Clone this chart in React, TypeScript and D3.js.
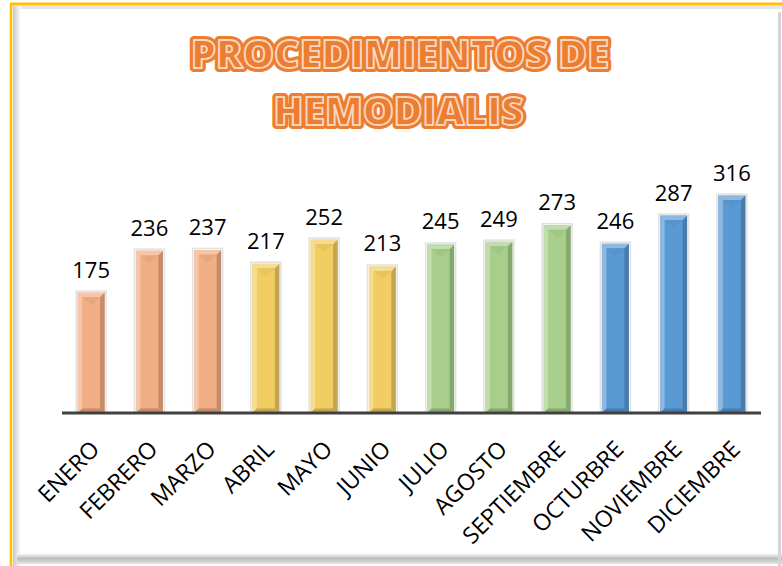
import * as d3 from "d3"

const months = [
  "ENERO", "FEBRERO", "MARZO", "ABRIL", "MAYO", "JUNIO",
  "JULIO", "AGOSTO", "SEPTIEMBRE", "OCTURBRE", "NOVIEMBRE", "DICIEMBRE",
]
const values = [175, 236, 237, 217, 252, 213, 245, 249, 273, 246, 287, 316]
// one colour group per quarter
const quarter = [0, 0, 0, 1, 1, 1, 2, 2, 2, 3, 3, 3]
const baseColors = ["#F2AE84", "#F1CD62", "#A7CF8B", "#5A9AD4"]
const titleLines = ["PROCEDIMIENTOS DE", "HEMODIALIS"]

const W = 782
const H = 566
const left = 62
const right = 761
const baseY = 413

export default function App() {
  const x = d3
    .scaleBand<string>()
    .domain(months)
    .range([left, right])
    .paddingInner(0.537)
    .paddingOuter(0.2685)
  const y = d3.scaleLinear().domain([0, 350]).range([baseY, baseY - 350 * 0.688])
  const bw = x.bandwidth()
  const b = 4.5

  return (
    <svg
      width={W}
      height={H}
      style={{ position: "absolute", left: 0, top: 0, background: "#fff" }}
      fontFamily="'Open Sans', sans-serif"
    >
      <defs>
        <linearGradient id="shadeL" x1="0" x2="1" y1="0" y2="0">
          <stop offset="0" stopColor="#c8c8c8" />
          <stop offset="1" stopColor="#ffffff" />
        </linearGradient>
        <linearGradient id="shadeB" x1="0" x2="0" y1="0" y2="1">
          <stop offset="0" stopColor="#ffffff" />
          <stop offset="0.5" stopColor="#bdbdbd" />
          <stop offset="1" stopColor="#e4e4e4" />
        </linearGradient>
      </defs>

      {/* frame */}
      <rect x={13} y={6} width={W - 13} height={H - 6} fill="#fff" />
      <rect x={13} y={6} width={W - 13} height={3} fill="#e6e6e6" />
      <rect x={13} y={6} width={8} height={H - 6} fill="url(#shadeL)" />
      <rect x={17} y={553} width={W - 17} height={11} fill="url(#shadeB)" />
      <rect x={778} y={12} width={3} height={H - 12} fill="#d4d4d4" />
      <line x1={10} x2={W} y1={4} y2={4} stroke="#FFC000" strokeWidth={3} />
      <line x1={11} x2={11} y1={3} y2={H} stroke="#FFC000" strokeWidth={2.5} />

      {/* title */}
      {titleLines.map((t, i) => (
        <g key={t} fontWeight={800} fontSize={38} textAnchor="middle">
          <text
            x={i === 0 ? 400 : 398.5}
            y={i === 0 ? 68 : 125}
            fill="#ED7D31"
            stroke="#ED7D31"
            strokeWidth={8}
            strokeLinejoin="round"
            textLength={i === 0 ? 418 : 250}
            lengthAdjust="spacingAndGlyphs"
          >
            {t}
          </text>
          <text
            x={i === 0 ? 400 : 398.5}
            y={i === 0 ? 68 : 125}
            fill="#ED7D31"
            stroke="#FAD7BF"
            strokeWidth={1.8}
            strokeLinejoin="round"
            textLength={i === 0 ? 418 : 250}
            lengthAdjust="spacingAndGlyphs"
          >
            {t}
          </text>
        </g>
      ))}

      {/* bars */}
      {months.map((m, i) => {
        const x0 = x(m)!
        const x1 = x0 + bw
        const y0 = y(values[i])
        const y1 = y(0)
        const c = d3.color(baseColors[quarter[i]])!
        const light = d3.interpolateRgb(c.formatHex(), "#ffffff")(0.3)
        const dark = c.darker(0.6).formatHex()
        const mid = c.darker(0.25).formatHex()
        return (
          <g key={m}>
            <rect
              x={x0 - 1.5}
              y={y0 - 1.5}
              width={bw + 3}
              height={y1 - y0 + 1.5}
              fill="none"
              stroke="#d9d9d9"
              strokeWidth={1.5}
              opacity={0.8}
            />
            <rect x={x0} y={y0} width={bw} height={y1 - y0} fill={c.formatHex()} />
            <polygon
              points={`${x0},${y0} ${x0 + b},${y0 + b} ${x0 + b},${y1 - b} ${x0},${y1}`}
              fill={light}
            />
            <polygon
              points={`${x1},${y0} ${x1 - b},${y0 + b} ${x1 - b},${y1 - b} ${x1},${y1}`}
              fill={dark}
            />
            <polygon
              points={`${x0},${y0} ${x1},${y0} ${x1 - b},${y0 + b} ${x0 + b},${y0 + b}`}
              fill={light}
            />
            <polygon
              points={`${x0 + b},${y0 + b} ${x1 - b},${y0 + b} ${(x0 + x1) / 2},${y0 + b + 8}`}
              fill={mid}
              opacity={0.5}
            />
            <polygon
              points={`${x0},${y1} ${x1},${y1} ${x1 - b},${y1 - b} ${x0 + b},${y1 - b}`}
              fill={dark}
            />
            <text
              x={x0 + bw / 2}
              y={y0 - 15}
              textAnchor="middle"
              fontSize={22}
              fill="#000"
            >
              {values[i]}
            </text>
          </g>
        )
      })}

      {/* axis */}
      <line x1={left} x2={right} y1={baseY} y2={baseY} stroke="#404040" strokeWidth={3} />
      {months.map((m) => (
        <text
          key={m}
          transform={`translate(${x(m)! + bw / 2 + 4},445) rotate(-45)`}
          textAnchor="end"
          dy="0.35em"
          fontSize={23}
          fill="#000"
        >
          {m}
        </text>
      ))}
    </svg>
  )
}
